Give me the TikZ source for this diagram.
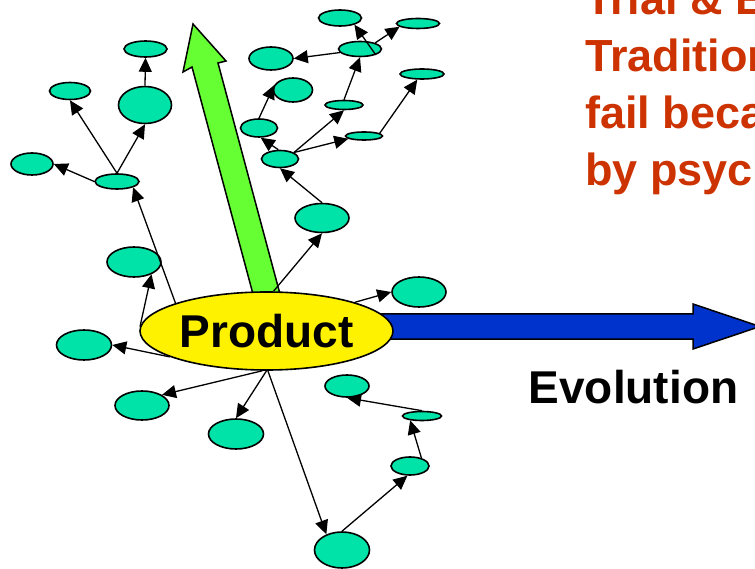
\documentclass[tikz,border=0pt]{standalone}
\usepackage{fontspec}
\setmainfont{Liberation Sans}
\usetikzlibrary{shapes.geometric, arrows.meta}

\definecolor{leafgreen}{HTML}{00E3A8}
\definecolor{upgreen}{HTML}{66FF33}
\definecolor{evoblue}{HTML}{0033CC}
\definecolor{trialred}{HTML}{CC3300}

\begin{document}
\begin{tikzpicture}[
    x=1pt, y=-1pt,
    leaf/.style={ellipse, draw, fill=leafgreen, line width=1.6pt, inner sep=0pt},
    prod/.style={
        ellipse, draw, fill=yellow, line width=1.6pt, inner sep=0pt,
        minimum width=253pt, minimum height=78pt,
        font=\bfseries\fontsize{46}{50}\selectfont
    },
    link/.style={-{Triangle[length=14pt, width=13pt]}, line width=1.3pt},
    block/.style={draw, line width=1.5pt, line join=miter},
    label/.style={anchor=base west, inner sep=0pt, font=\bfseries\fontsize{46}{50}\selectfont}
]

\useasboundingbox (0,0) rectangle (755,569);
\clip (0,0) rectangle (755,569);

% --- big arrows (behind Product) ---
\draw[block, fill=upgreen] (193,24) -- (226,61) -- (218,63) -- (291,335)
    -- (264,335) -- (192,67) -- (183,72) -- cycle;
\draw[block, fill=evoblue] (330,314) -- (693,314) -- (693,304) -- (760,326.5)
    -- (693,349) -- (693,339) -- (330,339) -- cycle;

% --- Product (center) ---
\node[prod] (P) at (266.5,331) {Product};

% --- left branch ---
\node[leaf, minimum width=43pt, minimum height=16pt] (A1) at (145.5,49) {};
\node[leaf, minimum width=53pt, minimum height=37pt] (A2) at (145,105) {};
\node[leaf, minimum width=41pt, minimum height=17pt] (A3) at (70,91) {};
\node[leaf, minimum width=42pt, minimum height=22pt] (A4) at (32,164) {};
\node[leaf, minimum width=44pt, minimum height=15pt] (A5) at (117,181.5) {};

% --- leaves round Product ---
\node[leaf, minimum width=54pt, minimum height=30pt] (B1) at (134,262) {};
\node[leaf, minimum width=55pt, minimum height=30pt] (B2) at (84,345) {};
\node[leaf, minimum width=54pt, minimum height=29pt] (B3) at (142,405.5) {};
\node[leaf, minimum width=55pt, minimum height=30pt] (B4) at (236,434) {};
\node[leaf, minimum width=55pt, minimum height=36pt] (B5) at (342,550) {};
\node[leaf, minimum width=38pt, minimum height=18pt] (B6) at (410,466) {};
\node[leaf, minimum width=39pt, minimum height=9pt] (B7) at (422,416) {};
\node[leaf, minimum width=44pt, minimum height=22pt] (B8) at (347,386) {};
\node[leaf, minimum width=54pt, minimum height=30pt] (B9) at (419,292) {};

% --- right branch ---
\node[leaf, minimum width=54pt, minimum height=29pt] (C1) at (322,218) {};
\node[leaf, minimum width=37pt, minimum height=17pt] (C2) at (280,159) {};
\node[leaf, minimum width=37pt, minimum height=18pt] (C3) at (259,128) {};
\node[leaf, minimum width=39pt, minimum height=24pt] (C4) at (293,90) {};
\node[leaf, minimum width=38pt, minimum height=9pt] (C5) at (344,105) {};
\node[leaf, minimum width=37pt, minimum height=8pt] (C6) at (364,136) {};
\node[leaf, minimum width=44pt, minimum height=10pt] (C7) at (422,74) {};
\node[leaf, minimum width=43pt, minimum height=15pt] (C8) at (360,49) {};
\node[leaf, minimum width=44pt, minimum height=23pt] (C9) at (271,58.5) {};
\node[leaf, minimum width=43pt, minimum height=16pt] (C10) at (340,18) {};
\node[leaf, minimum width=43pt, minimum height=10pt] (C11) at (418,23.5) {};

% --- links: left branch ---
\draw[link] (P.163) -- (A5.-20);
\draw[link] (A5.west) -- (A4.east);
\draw[link] (A5.north) -- (A3.south);
\draw[link] (A5.north) -- (A2.south);
\draw[link] (A2.north) -- (A1.south);

% --- links: round Product ---
\draw[link] (P.178) -- (B1.-35);
\draw[link] (P.195) -- (B2.east);
\draw[link] (P.-96) -- (B3.28);
\draw[link] (P.south) -- (B4.north);
\draw[link] (P.-88) -- (B5.135);
\draw[link] (B5.north) -- (B6.-105);
\draw[link] (B6.35) -- (B7.-160);
\draw[link] (B7.north) -- (B8.south);
\draw[link] (P.18) -- (B9.west);

% --- links: right branch ---
\draw[link] (P.80) -- (C1.south);
\draw[link] (C1.north) -- (C2.south);
\draw[link] (C2.100) -- (C3.-80);
\draw[link] (C3.north) -- (C4.165);
\draw[link] (C2.25) -- (C5.south);
\draw[link] (C2.25) -- (C6.190);
\draw[link] (C6.10) -- (C7.-130);
\draw[link] (C5.north) -- (C8.south);
\draw[link] (C8.190) -- (C9.east);
\draw[link] (C8.south east) -- (C10.-25);
\draw[link] (C8.22) -- (C11.190);

% --- texts ---
\node[label] (evo) at (528.5,403) {Evolution};
\node[label, align=left, text=trialred, font=\bfseries\fontsize{45}{57}\selectfont]
    (trial) at (585,186) {Trial \& Error\\Traditional methods\\fail because blocked\\by psychological inertia};

\end{tikzpicture}
\end{document}
